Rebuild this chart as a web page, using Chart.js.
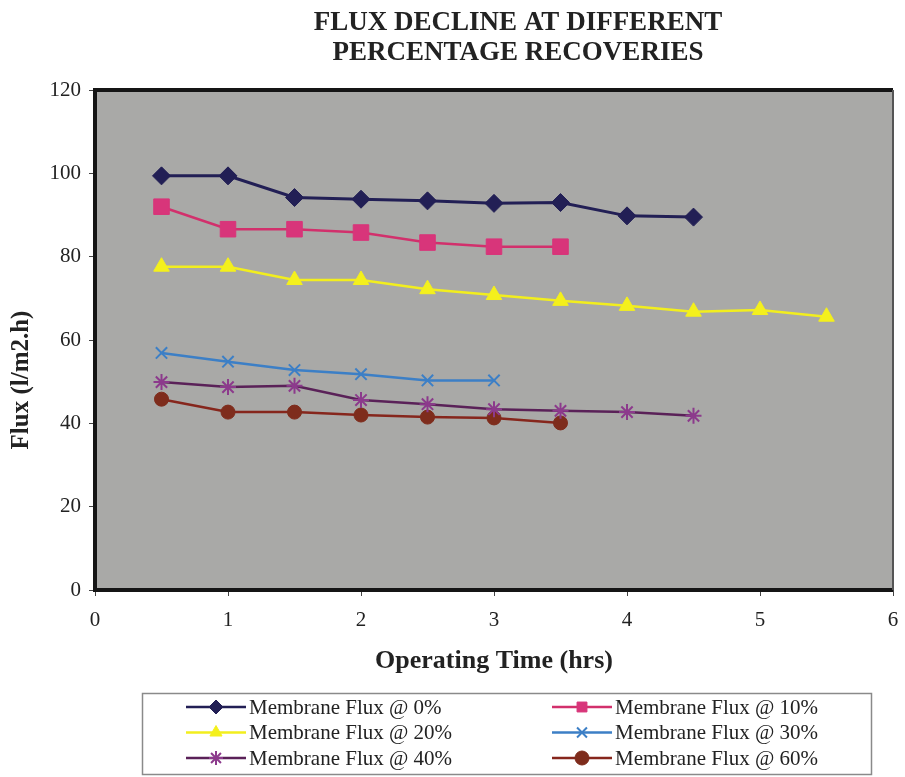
<!DOCTYPE html>
<html>
<head>
<meta charset="utf-8">
<title>Flux decline at different percentage recoveries</title>
<script src="https://cdn.jsdelivr.net/npm/chart.js@4.4.1/dist/chart.umd.min.js"></script>
<style>
  html, body { margin: 0; background: #fff; }
  #wrap { width: 905px; height: 777px; position: relative; }
</style>
</head>
<body>
<div id="wrap"><canvas id="chart"></canvas></div>
<script>
// operating time (hrs) and flux (l/m2.h)
const hours = [0.5, 1, 1.5, 2, 2.5, 3, 3.5, 4, 4.5, 5, 5.5];
const flux0  = [99.4, 99.4, 94.2, 93.8, 93.4, 92.8, 93.0, 89.8, 89.5];
const flux10 = [92.0, 86.6, 86.6, 85.8, 83.4, 82.4, 82.4];
const flux20 = [77.6, 77.6, 74.4, 74.4, 72.2, 70.8, 69.4, 68.2, 66.8, 67.2, 65.6];
const flux30 = [56.9, 54.8, 52.8, 51.8, 50.3, 50.3];
const flux40 = [49.9, 48.7, 49.0, 45.6, 44.6, 43.4, 43.0, 42.7, 41.8];
const flux60 = [45.8, 42.7, 42.7, 42.0, 41.5, 41.3, 40.1];
const seriesNames = ['Membrane Flux @ 0%', 'Membrane Flux @ 10%', 'Membrane Flux @ 20%',
                     'Membrane Flux @ 30%', 'Membrane Flux @ 40%', 'Membrane Flux @ 60%'];
const titleLines = ['FLUX DECLINE AT DIFFERENT', 'PERCENTAGE RECOVERIES'];
const xTitle = 'Operating Time (hrs)';
const yTitle = 'Flux (l/m2.h)';
const xMin = 0, xMax = 6, xStep = 1;
const yMin = 0, yMax = 120, yStep = 20;

const SERIF = "'Liberation Serif', 'Times New Roman', serif";
const pts = vals => vals.map((v, i) => ({x: hours[i], y: v}));

const styles = [
  {line: '#221f55', fill: '#221f55', shape: 'rectRot',  r: 9,  w: 3,   pw: 1},
  {line: '#d2306c', fill: '#d8357a', shape: 'rect',     r: 11, w: 2.5, pw: 1},
  {line: '#f2ee1e', fill: '#f4f01c', shape: 'triangle', r: 9,  w: 2.5, pw: 1},
  {line: '#3c7fc6', fill: '#3c7fc6', shape: 'crossRot', r: 8,  w: 2.5, pw: 2},
  {line: '#5a2158', fill: '#8c3a8c', shape: 'star',     r: 8,  w: 2.5, pw: 2},
  {line: '#86261c', fill: '#7e2c1c', shape: 'circle',   r: 7,  w: 2.5, pw: 1}
];
const allFlux = [flux0, flux10, flux20, flux30, flux40, flux60];

const datasets = allFlux.map((vals, i) => ({
  label: seriesNames[i],
  data: pts(vals),
  borderColor: styles[i].line,
  backgroundColor: styles[i].fill,
  borderWidth: styles[i].w,
  pointStyle: styles[i].shape,
  pointRadius: styles[i].r,
  pointHoverRadius: styles[i].r,
  pointBackgroundColor: styles[i].fill,
  pointBorderColor: styles[i].fill,
  pointBorderWidth: styles[i].pw,
  tension: 0,
  fill: false
}));

// grey plot area with dark frame
const plotFrame = {
  id: 'plotFrame',
  beforeDraw(chart) {
    const {ctx, chartArea: a} = chart;
    ctx.save();
    ctx.fillStyle = '#a9a9a7';
    ctx.fillRect(a.left, a.top, a.right - a.left, a.bottom - a.top);
    ctx.restore();
  },
  beforeDatasetsDraw(chart) {
    const {ctx, chartArea: a} = chart;
    ctx.save();
    ctx.strokeStyle = '#151515';
    ctx.lineWidth = 4;
    ctx.beginPath();
    ctx.moveTo(a.right, a.top);
    ctx.lineTo(a.left, a.top);
    ctx.lineTo(a.left, a.bottom);
    ctx.lineTo(a.right, a.bottom);
    ctx.stroke();
    ctx.strokeStyle = '#555';
    ctx.lineWidth = 2;
    ctx.beginPath();
    ctx.moveTo(a.right, a.top);
    ctx.lineTo(a.right, a.bottom);
    ctx.stroke();
    ctx.restore();
  }
};

// title is centred a little right of the canvas middle in the original
const shiftTitle = {
  id: 'shiftTitle',
  afterLayout(chart) {
    if (chart.titleBlock) chart.titleBlock.left = 131;
  }
};

// y axis title sits below the middle of the axis in the original
const yAxisTitle = {
  id: 'yAxisTitle',
  afterDraw(chart) {
    const ctx = chart.ctx;
    ctx.save();
    ctx.translate(22, 380);
    ctx.rotate(-Math.PI / 2);
    ctx.font = 'bold 25px ' + SERIF;
    ctx.fillStyle = '#222';
    ctx.textAlign = 'center';
    ctx.textBaseline = 'middle';
    ctx.fillText(yTitle, 0, 0);
    ctx.restore();
  }
};

// boxed two-column legend: line with marker, then text
const boxLegend = {
  id: 'boxLegend',
  afterDraw(chart) {
    const ctx = chart.ctx;
    const box = {x: 142, y: 693, w: 729, h: 81};
    ctx.save();
    ctx.strokeStyle = '#8a8a8a';
    ctx.lineWidth = 1.5;
    ctx.strokeRect(box.x + 0.5, box.y + 0.5, box.w, box.h);
    const colX = [186, 552];
    const rowY = [707, 732.5, 758];
    ctx.font = '21px ' + SERIF;
    ctx.textBaseline = 'middle';
    ctx.textAlign = 'left';
    chart.data.datasets.forEach((ds, i) => {
      const x0 = colX[i % 2], y = rowY[Math.floor(i / 2)];
      ctx.strokeStyle = ds.borderColor;
      ctx.lineWidth = 2.5;
      ctx.beginPath();
      ctx.moveTo(x0, y);
      ctx.lineTo(x0 + 60, y);
      ctx.stroke();
      ctx.fillStyle = ds.pointBackgroundColor;
      ctx.strokeStyle = ds.pointBorderColor;
      ctx.lineWidth = ds.pointBorderWidth;
      Chart.helpers.drawPoint(ctx, {pointStyle: ds.pointStyle, radius: Math.min(ds.pointRadius, 7),
        borderWidth: ds.pointBorderWidth, rotation: 0}, x0 + 30, y);
      ctx.fillStyle = '#222';
      ctx.fillText(ds.label, x0 + 63, y + 1);
    });
    ctx.restore();
  }
};

new Chart(document.getElementById('chart'), {
  type: 'line',
  data: {datasets},
  plugins: [plotFrame, shiftTitle, yAxisTitle, boxLegend],
  options: {
    responsive: true,
    maintainAspectRatio: false,
    animation: false,
    layout: {padding: {left: 0, right: 0, top: 0, bottom: 97}},
    plugins: {
      legend: {display: false},
      tooltip: {enabled: false},
      title: {
        display: true,
        text: titleLines,
        color: '#222',
        font: {family: SERIF, size: 27, weight: 'bold', lineHeight: 1.075},
        padding: {top: 9, bottom: 23}
      }
    },
    scales: {
      x: {
        type: 'linear',
        min: xMin, max: xMax,
        afterFit: s => { s.height = 90; s.paddingLeft = 0; s.paddingRight = 6; },
        ticks: {stepSize: xStep, color: '#222', padding: 12, font: {family: SERIF, size: 21}},
        grid: {display: true, drawOnChartArea: false, drawTicks: true, tickLength: 6, color: '#444'},
        border: {display: false},
        title: {display: true, text: xTitle, color: '#222',
                font: {family: SERIF, size: 26, weight: 'bold', lineHeight: 1.2},
                padding: {top: 0, bottom: 3}}
      },
      y: {
        min: yMin, max: yMax,
        afterFit: s => { s.width = 95; },
        ticks: {stepSize: yStep, color: '#222', padding: 8, font: {family: SERIF, size: 21}},
        grid: {display: true, drawOnChartArea: false, drawTicks: true, tickLength: 6, color: '#444'},
        border: {display: false}
      }
    }
  }
});
</script>
</body>
</html>
